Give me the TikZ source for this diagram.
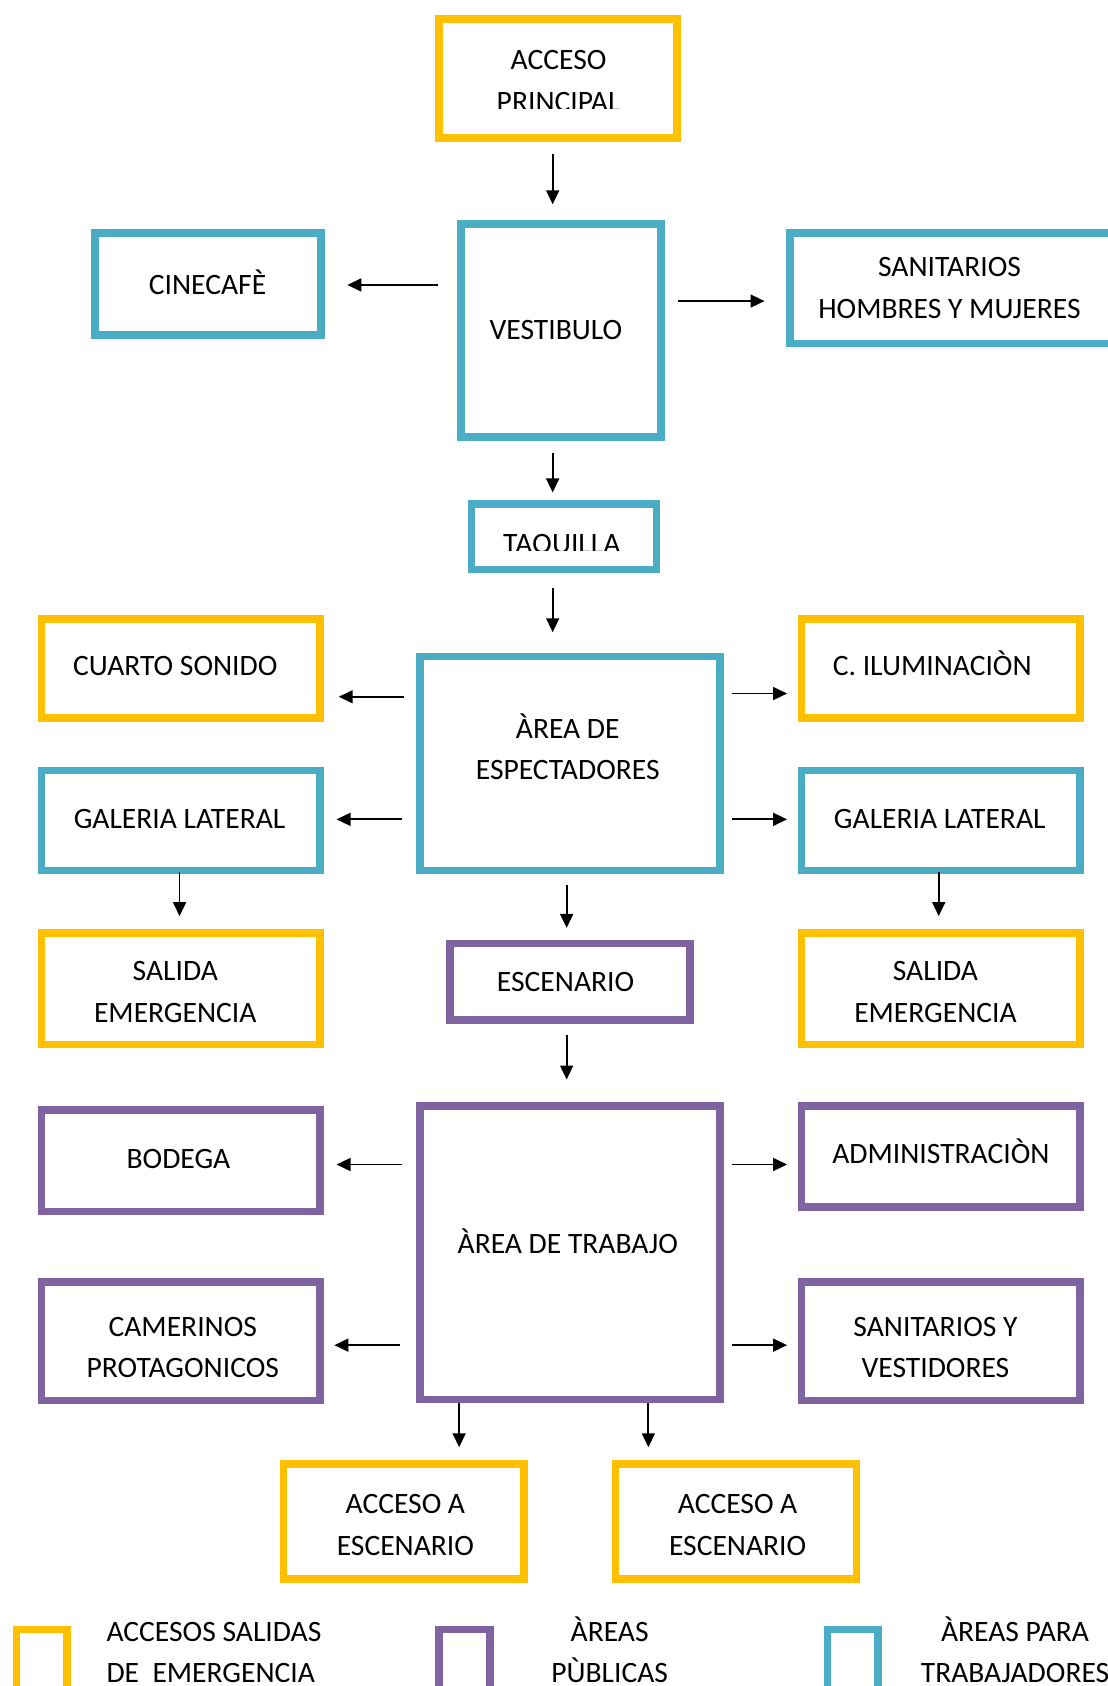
\documentclass[tikz,border=0pt]{standalone}
\usepackage{fontspec}
\setmainfont{Carlito}
\usetikzlibrary{arrows.meta}
\definecolor{cyel}{HTML}{FFC000}
\definecolor{ccya}{HTML}{4BACC6}
\definecolor{cpur}{HTML}{8064A2}
\tikzset{
  box/.style={draw, line width=7pt, rectangle, inner sep=0pt, outer sep=0pt, fill=white},
  ybox/.style={box, draw=cyel},
  cbox/.style={box, draw=ccya},
  pbox/.style={box, draw=cpur},
  txt/.style={anchor=base, inner sep=0pt, font=\fontsize{27.5}{39}\selectfont},
  arr/.style={line width=1.7pt, -{Triangle[length=13pt,width=12pt]}}
}
\begin{document}
\begin{tikzpicture}[x=1pt,y=-1pt]
\useasboundingbox[fill=white] (0,0) rectangle (1030,1568);
% boxes
\node[ybox, minimum width=221, minimum height=111] (ap) at (519,73) {};
\node[cbox, minimum width=186, minimum height=198] (vest) at (521.5,307.5) {};
\node[cbox, minimum width=210, minimum height=95] (cine) at (193.5,264) {};
\node[cbox, minimum width=322, minimum height=103] (sani) at (895.5,268) {};
\node[cbox, minimum width=172, minimum height=61] (taq) at (524.5,499) {};
\node[ybox, minimum width=259, minimum height=92] (cs) at (168,621.5) {};
\node[cbox, minimum width=279, minimum height=199] (esp) at (530,710) {};
\node[ybox, minimum width=259, minimum height=92] (ilu) at (875,621.5) {};
\node[cbox, minimum width=259, minimum height=93] (gl) at (168,763) {};
\node[cbox, minimum width=259, minimum height=93] (gr) at (875,763) {};
\node[ybox, minimum width=259, minimum height=104] (sl) at (168,919.5) {};
\node[pbox, minimum width=223, minimum height=71] (esc) at (530,913) {};
\node[ybox, minimum width=259, minimum height=104] (sr) at (875,919.5) {};
\node[pbox, minimum width=259, minimum height=94] (bod) at (168,1079.5) {};
\node[pbox, minimum width=279, minimum height=273] (trab) at (530,1165) {};
\node[pbox, minimum width=259, minimum height=94] (adm) at (875,1075.5) {};
\node[pbox, minimum width=259, minimum height=110] (cam) at (168,1247.5) {};
\node[pbox, minimum width=259, minimum height=110] (sv) at (875,1247.5) {};
\node[ybox, minimum width=224, minimum height=107] (a1) at (375.5,1415) {};
\node[ybox, minimum width=224, minimum height=107] (a2) at (684.5,1415) {};
\node[ybox, minimum width=47, minimum height=71] (ly) at (39,1551) {};
\node[pbox, minimum width=47, minimum height=71] (lp) at (432,1551) {};
\node[cbox, minimum width=47, minimum height=71] (lc) at (793,1551) {};
% texts
\node[txt] (ap1) at (519.5,64.5) {ACCESO};
\begin{scope}
\clip (405,14) rectangle (633,100.5);
\node[txt] (ap2) at (519.5,104) {PRINCIPAL};
\end{scope}
\node[txt] (vest1) at (517,315.5) {VESTIBULO};
\node[txt] (cine1) at (193,273.5) {CINECAFÈ};
\node[txt] (sani1) at (883,257.5) {SANITARIOS};
\node[txt] (sani2) at (883,296.5) {HOMBRES Y MUJERES};
\begin{scope}
\clip (435,465) rectangle (614,512);
\node[txt] (taq1) at (522.5,515) {TAQUILLA};
\end{scope}
\node[txt] (cs1) at (163,628.5) {CUARTO SONIDO};
\node[txt] (esp1) at (528,686.5) {ÀREA DE};
\node[txt] (esp2) at (528,724.5) {ESPECTADORES};
\node[txt] (ilu1) at (867,628.5) {C. ILUMINACIÒN};
\node[txt] (gl1) at (167,770.5) {GALERIA LATERAL};
\node[txt] (gr1) at (874,770.5) {GALERIA LATERAL};
\node[txt] (sl1) at (163,911.5) {SALIDA};
\node[txt] (sl2) at (163,950.5) {EMERGENCIA};
\node[txt] (esc1) at (526,922.5) {ESCENARIO};
\node[txt] (sr1) at (870,911.5) {SALIDA};
\node[txt] (sr2) at (870,950.5) {EMERGENCIA};
\node[txt] (bod1) at (166,1086.5) {BODEGA};
\node[txt] (trab1) at (528,1165.5) {ÀREA DE TRABAJO};
\node[txt] (adm1) at (875,1082.5) {ADMINISTRACIÒN};
\node[txt] (cam1) at (170,1242.5) {CAMERINOS};
\node[txt] (cam2) at (170,1281.5) {PROTAGONICOS};
\node[txt] (sv1) at (870,1242.5) {SANITARIOS Y};
\node[txt] (sv2) at (870,1281.5) {VESTIDORES};
\node[txt] (a11) at (377,1407.5) {ACCESO A};
\node[txt] (a12) at (377,1446.5) {ESCENARIO};
\node[txt] (a21) at (686,1407.5) {ACCESO A};
\node[txt] (a22) at (686,1446.5) {ESCENARIO};
\node[txt] (ly1) at (199,1526.5) {ACCESOS SALIDAS};
\node[txt] (ly2) at (196,1564.5) {DE\ \ EMERGENCIA};
\node[txt] (lp1) at (567,1526.5) {ÀREAS};
\node[txt] (lp2) at (567,1564.5) {PÙBLICAS};
\node[txt] (lc1) at (944,1526.5) {ÀREAS PARA};
\node[txt] (lc2) at (944,1564.5) {TRABAJADORES};
% connectors
\draw[arr, shorten <=14.5pt, shorten >=18.5pt] ([xshift=-5pt]ap.south) -- ([xshift=-7.5pt]vest.north);
\draw[arr, shorten <=21.5pt, shorten >=24.5pt] ([yshift=42.5pt]vest.west) -- ([yshift=-1pt]cine.east);
\draw[arr, shorten <=16.5pt, shorten >=23.5pt] ([yshift=27.5pt]vest.east) -- ([yshift=-12pt]sani.west);
\draw[arr, shorten <=14.5pt, shorten >=10.5pt] ([xshift=-7.5pt]vest.south) -- ([xshift=-10.5pt]taq.north);
\draw[arr, shorten <=17.5pt, shorten >=22.5pt] ([xshift=-10.5pt]taq.south) -- ([xshift=-16pt]esp.north);
\draw[arr, shorten <=14.5pt, shorten >=17.5pt] ([yshift=62pt]esp.west) -- ([yshift=-26.5pt]cs.east);
\draw[arr, shorten <=16.5pt, shorten >=15.5pt] ([yshift=-52pt]esp.west) -- ([yshift=1pt]gl.east);
\draw[arr, shorten <=11.5pt, shorten >=13.5pt] ([yshift=65pt]esp.east) -- ([yshift=-23.5pt]ilu.west);
\draw[arr, shorten <=11.5pt, shorten >=13.5pt] ([yshift=-52pt]esp.east) -- ([yshift=1pt]gr.west);
\draw[arr, shorten <=1.5pt, shorten >=15.5pt] ([xshift=-1pt]gl.south) -- ([xshift=-1pt]sl.north);
\draw[arr, shorten <=1.5pt, shorten >=15.5pt] ([xshift=-2pt]gr.south) -- ([xshift=-2pt]sr.north);
\draw[arr, shorten <=13.5pt, shorten >=14.5pt] ([xshift=-3pt]esp.south) -- ([xshift=-3pt]esc.north);
\draw[arr, shorten <=14.5pt, shorten >=24.5pt] ([xshift=-3pt]esc.south) -- ([xshift=-3pt]trab.north);
\draw[arr, shorten <=16.5pt, shorten >=15.5pt] ([yshift=82pt]trab.west) -- ([yshift=-3.5pt]bod.east);
\draw[arr, shorten <=11.5pt, shorten >=13.5pt] ([yshift=82pt]trab.east) -- ([yshift=-7.5pt]adm.west);
\draw[arr, shorten <=18.5pt, shorten >=13.5pt] ([yshift=-86pt]trab.west) -- ([yshift=-3.5pt]cam.east);
\draw[arr, shorten <=11.5pt, shorten >=13.5pt] ([yshift=-86pt]trab.east) -- ([yshift=-3.5pt]sv.west);
\draw[arr, shorten <=3.5pt, shorten >=15.5pt] ([xshift=-103pt]trab.south) -- ([xshift=51.5pt]a1.north);
\draw[arr, shorten <=3.5pt, shorten >=15.5pt] ([xshift=73pt]trab.south) -- ([xshift=-81.5pt]a2.north);
\end{tikzpicture}
\end{document}
